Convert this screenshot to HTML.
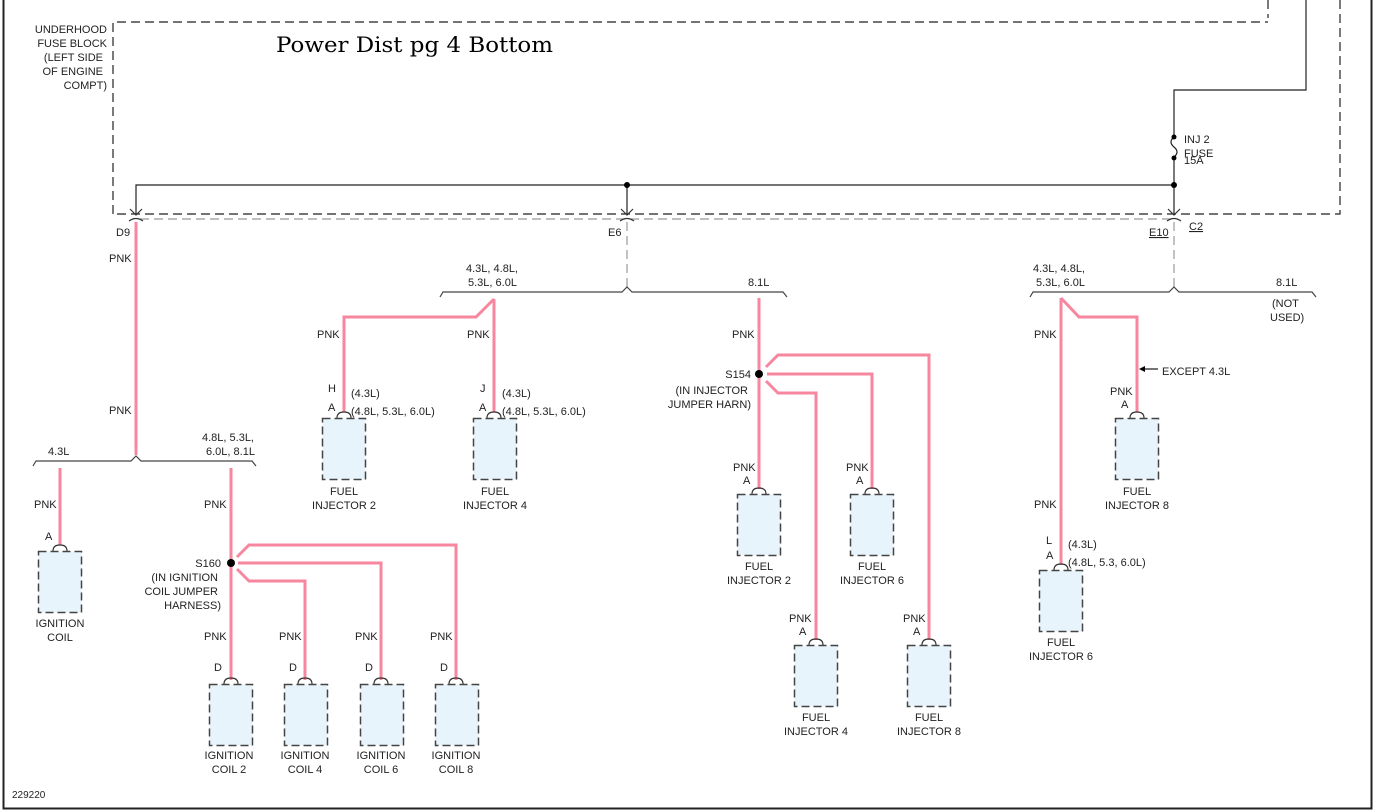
<!DOCTYPE html>
<html><head><meta charset="utf-8"><style>
html,body{margin:0;padding:0;background:#fff;}
svg{display:block;}
text{font-family:"Liberation Sans",sans-serif;font-size:11px;fill:#222;}
.t{font-family:"DejaVu Serif","Liberation Serif",serif;font-size:21px;fill:#000;}
.w{stroke:#f7879f;stroke-width:3;fill:none;}
.b{stroke:#222;stroke-width:1.2;fill:none;}
.bus{stroke:#444;stroke-width:1.2;fill:none;}
.d{stroke:#222;stroke-width:1.2;fill:none;stroke-dasharray:9 5;}
.g{stroke:#999;stroke-width:1.2;fill:none;stroke-dasharray:9 5;}
.box{fill:#e8f4fb;stroke:#444;stroke-width:1.5;stroke-dasharray:8 4;}
.c{stroke:#333;stroke-width:1.2;fill:none;}
</style></head><body>
<svg width="1373" height="812" viewBox="0 0 1373 812" xmlns="http://www.w3.org/2000/svg">
<path d="M3.5 0 V808.5 H1371.5 V0" stroke="#222" stroke-width="2" fill="none"/>
<path class="d" d="M113 214 V22 H1268"/>
<path class="d" d="M1268 0 V18"/>
<path class="d" d="M1340 0 V214 H113"/>
<path class="g" d="M140 219 H1172"/>
<text x="107" y="33" text-anchor="end">UNDERHOOD</text>
<text x="107" y="47" text-anchor="end">FUSE BLOCK</text>
<text x="103" y="61" text-anchor="end">(LEFT SIDE</text>
<text x="103" y="75" text-anchor="end">OF ENGINE</text>
<text x="107" y="89" text-anchor="end">COMPT)</text>
<text class="t" x="276" y="52" textLength="277" lengthAdjust="spacingAndGlyphs">Power Dist pg 4 Bottom</text>
<path class="b" d="M1306 0 V90 H1174 V136"/>
<path class="b" d="M1174 158 V214"/>
<path class="b" d="M1174 137 q-6 5 0 10 q6 5 0 10"/>
<circle cx="1174" cy="137" r="2.5" fill="#000"/>
<circle cx="1174" cy="158" r="2.5" fill="#000"/>
<text x="1184" y="143">INJ 2</text>
<text x="1184" y="157">FUSE</text>
<text x="1184" y="164">15A</text>
<path class="b" d="M136 214 V185 H1174"/>
<path class="b" d="M627 185 V214"/>
<circle cx="627" cy="185" r="3" fill="#000"/>
<circle cx="1174" cy="185" r="3" fill="#000"/>
<g class="c">
<path d="M130 209 L136 215 L142 209"/><path d="M129 221 Q136 216 143 221"/>
<path d="M621 209 L627 215 L633 209"/><path d="M620 221 Q627 216 634 221"/>
<path d="M1168 209 L1174 215 L1180 209"/><path d="M1167 221 Q1174 216 1181 221"/>
</g>
<text x="116" y="236">D9</text>
<text x="608" y="236">E6</text>
<text x="1149" y="236" text-decoration="underline">E10</text>
<text x="1189" y="230" text-decoration="underline">C2</text>
<path class="g" d="M627 222 V290"/>
<path class="g" d="M1174 222 V290"/>
<path class="w" d="M136 222 V455"/>
<text x="109" y="262">PNK</text>
<text x="109" y="414">PNK</text>
<path class="bus" d="M33 466 l3 -5 H131 l5 -5 l5 5 H252 l4 5"/>
<text x="48" y="455">4.3L</text>
<text x="202" y="441">4.8L, 5.3L,</text>
<text x="206" y="455">6.0L, 8.1L</text>
<path class="w" d="M60 468 V545"/>
<text x="34" y="508">PNK</text>
<text x="45" y="540">A</text>
<path class="c" d="M53 551 q0 -6 7 -6 q7 0 7 6"/>
<rect class="box" x="38.5" y="551.5" width="43" height="61"/>
<text x="60" y="627" text-anchor="middle">IGNITION</text>
<text x="60" y="641" text-anchor="middle">COIL</text>
<path class="w" d="M231 468 V680"/>
<text x="204" y="508">PNK</text>
<circle cx="231" cy="563" r="4" fill="#000"/>
<text x="221" y="567" text-anchor="end">S160</text>
<text x="218" y="581" text-anchor="end">(IN IGNITION</text>
<text x="218" y="595" text-anchor="end">COIL JUMPER</text>
<text x="221" y="609" text-anchor="end">HARNESS)</text>
<path class="w" d="M237 557 L249 545 H456 V680"/>
<path class="w" d="M238 563 H381 V680"/>
<path class="w" d="M237 569 L249 581 H305 V680"/>
<g>
<text x="204" y="640">PNK</text><text x="279" y="640">PNK</text><text x="355" y="640">PNK</text><text x="430" y="640">PNK</text>
<text x="214" y="671">D</text><text x="289" y="671">D</text><text x="365" y="671">D</text><text x="440" y="671">D</text>
</g>
<path class="c" d="M224 684 q0 -6 7 -6 q7 0 7 6 M298 684 q0 -6 7 -6 q7 0 7 6 M374 684 q0 -6 7 -6 q7 0 7 6 M449 684 q0 -6 7 -6 q7 0 7 6"/>
<rect class="box" x="209.5" y="684.5" width="43" height="61"/>
<rect class="box" x="284.5" y="684.5" width="43" height="61"/>
<rect class="box" x="360.5" y="684.5" width="43" height="61"/>
<rect class="box" x="435.5" y="684.5" width="43" height="61"/>
<g text-anchor="middle">
<text x="229" y="759">IGNITION</text><text x="229" y="773">COIL 2</text>
<text x="305" y="759">IGNITION</text><text x="305" y="773">COIL 4</text>
<text x="381" y="759">IGNITION</text><text x="381" y="773">COIL 6</text>
<text x="456" y="759">IGNITION</text><text x="456" y="773">COIL 8</text>
</g>
<path class="bus" d="M440 297 l3 -5 H622 l5 -5 l5 5 H783 l4 5"/>
<text x="466" y="272">4.3L, 4.8L,</text>
<text x="468" y="286">5.3L, 6.0L</text>
<text x="748" y="286">8.1L</text>
<path class="w" d="M494 299 V412"/>
<path class="w" d="M494 299 L476 317 H344 V412"/>
<text x="317" y="338">PNK</text><text x="467" y="338">PNK</text>
<text x="328" y="392">H</text><text x="328" y="411">A</text>
<text x="351" y="397">(4.3L)</text><text x="351" y="415">(4.8L, 5.3L, 6.0L)</text>
<text x="480" y="392">J</text><text x="479" y="411">A</text>
<text x="502" y="397">(4.3L)</text><text x="502" y="415">(4.8L, 5.3L, 6.0L)</text>
<path class="c" d="M337 418 q0 -6 7 -6 q7 0 7 6 M487 418 q0 -6 7 -6 q7 0 7 6"/>
<rect class="box" x="322.5" y="418.5" width="43" height="61"/>
<rect class="box" x="473.5" y="418.5" width="43" height="61"/>
<g text-anchor="middle">
<text x="344" y="495">FUEL</text><text x="344" y="509">INJECTOR 2</text>
<text x="495" y="495">FUEL</text><text x="495" y="509">INJECTOR 4</text>
</g>
<path class="w" d="M759 298 V489"/>
<text x="732" y="338">PNK</text>
<circle cx="759" cy="374" r="4" fill="#000"/>
<text x="751" y="378" text-anchor="end">S154</text>
<text x="748" y="394" text-anchor="end">(IN INJECTOR</text>
<text x="751" y="408" text-anchor="end">JUMPER HARN)</text>
<path class="w" d="M766 367 L778 355 H929 V640"/>
<path class="w" d="M767 374 H872 V489"/>
<path class="w" d="M766 381 L778 393 H816 V640"/>
<text x="733" y="471">PNK</text><text x="743" y="484">A</text>
<text x="846" y="471">PNK</text><text x="856" y="484">A</text>
<text x="789" y="622">PNK</text><text x="799" y="635">A</text>
<text x="903" y="622">PNK</text><text x="913" y="635">A</text>
<path class="c" d="M752 494 q0 -6 7 -6 q7 0 7 6 M865 494 q0 -6 7 -6 q7 0 7 6 M809 645 q0 -6 7 -6 q7 0 7 6 M922 645 q0 -6 7 -6 q7 0 7 6"/>
<rect class="box" x="737.5" y="494.5" width="43" height="61"/>
<rect class="box" x="850.5" y="494.5" width="43" height="61"/>
<rect class="box" x="794.5" y="645.5" width="43" height="61"/>
<rect class="box" x="907.5" y="645.5" width="43" height="61"/>
<g text-anchor="middle">
<text x="759" y="570">FUEL</text><text x="759" y="584">INJECTOR 2</text>
<text x="872" y="570">FUEL</text><text x="872" y="584">INJECTOR 6</text>
<text x="816" y="721">FUEL</text><text x="816" y="735">INJECTOR 4</text>
<text x="929" y="721">FUEL</text><text x="929" y="735">INJECTOR 8</text>
</g>
<path class="bus" d="M1030 297 l3 -5 H1169 l5 -5 l5 5 H1312 l4 5"/>
<text x="1033" y="272">4.3L, 4.8L,</text>
<text x="1036" y="286">5.3L, 6.0L</text>
<text x="1276" y="286">8.1L</text>
<text x="1272" y="307">(NOT</text>
<text x="1270" y="321">USED)</text>
<path class="w" d="M1061 298 V565"/>
<path class="w" d="M1061 298 L1079 317 H1137 V412"/>
<text x="1034" y="338">PNK</text>
<path class="b" d="M1158 369 H1141"/>
<path d="M1139 369 l6 -3 v6 z" fill="#000"/>
<text x="1162" y="375">EXCEPT 4.3L</text>
<text x="1110" y="395">PNK</text><text x="1121" y="408">A</text>
<path class="c" d="M1130 418 q0 -6 7 -6 q7 0 7 6"/>
<rect class="box" x="1115.5" y="418.5" width="43" height="61"/>
<text x="1137" y="495" text-anchor="middle">FUEL</text>
<text x="1137" y="509" text-anchor="middle">INJECTOR 8</text>
<text x="1034" y="508">PNK</text>
<text x="1046" y="544">L</text><text x="1046" y="559">A</text>
<text x="1068" y="548">(4.3L)</text><text x="1068" y="566">(4.8L, 5.3, 6.0L)</text>
<path class="c" d="M1054 570 q0 -6 7 -6 q7 0 7 6"/>
<rect class="box" x="1039.5" y="570.5" width="43" height="61"/>
<text x="1061" y="646" text-anchor="middle">FUEL</text>
<text x="1061" y="660" text-anchor="middle">INJECTOR 6</text>
<text x="12" y="798" style="font-size:10px">229220</text>
</svg>
</body></html>
